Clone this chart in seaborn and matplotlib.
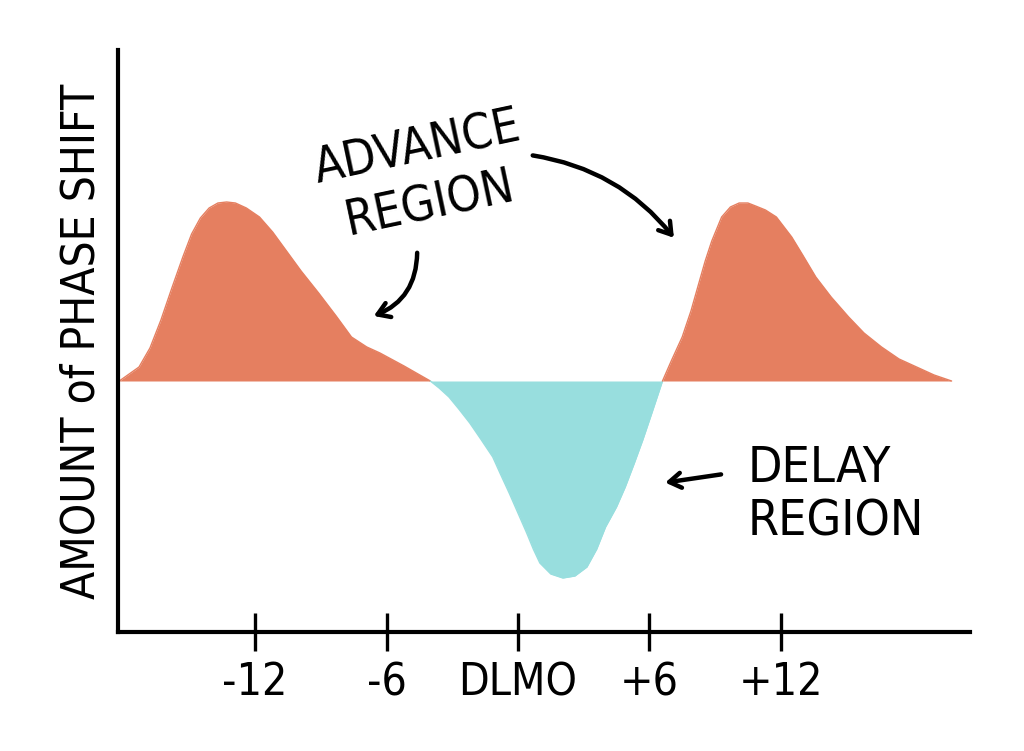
import numpy as np
import pandas as pd
import matplotlib
matplotlib.use("Agg")
import matplotlib.pyplot as plt
import seaborn as sns

# hours relative to DLMO, phase shift in arbitrary units
adv_left_h = [-18.2, -17.3, -16.8, -16.3, -15.8, -15.3, -14.9, -14.5, -14.1, -13.7, -13.3, -12.9, -12.4,
              -11.8, -11.2, -10.6, -9.9, -9.1, -8.3, -7.6, -6.9, -6.3, -5.2, -4.0]
adv_left_y = [0.0, 0.14, 0.33, 0.61, 0.93, 1.24, 1.47, 1.63, 1.73, 1.78, 1.79, 1.78, 1.73,
              1.64, 1.49, 1.31, 1.10, 0.88, 0.65, 0.44, 0.34, 0.28, 0.15, 0.0]

delay_h = [-4.0, -3.6, -3.15, -2.7, -2.2, -1.7, -1.15, -0.8, -0.4, 0.0, 0.4, 0.7, 1.0, 1.5,
           2.05, 2.6, 3.15, 3.6, 4.0, 4.5, 4.9, 5.3, 5.7, 6.1, 6.6]
delay_y = [0.0, -0.07, -0.16, -0.28, -0.42, -0.58, -0.76, -0.93, -1.12, -1.32, -1.52, -1.68,
           -1.82, -1.93, -1.97, -1.95, -1.86, -1.68, -1.46, -1.26, -1.06, -0.83, -0.59, -0.33, 0.0]

adv_right_h = [6.6, 7.0, 7.5, 7.9, 8.25, 8.55, 8.85, 9.3, 9.7, 10.1, 10.5, 10.85, 11.3, 11.8,
               12.5, 13.0, 13.6, 14.3, 15.1, 15.8, 16.6, 17.4, 18.2, 19.0, 19.8]
adv_right_y = [0.0, 0.2, 0.44, 0.70, 0.97, 1.20, 1.40, 1.64, 1.74, 1.78, 1.78, 1.75, 1.71, 1.64,
               1.44, 1.26, 1.04, 0.84, 0.64, 0.48, 0.34, 0.22, 0.14, 0.06, 0.0]

tick_hours = [-12, -6, 0, 6, 12]
tick_labels = ["-12", "-6", "DLMO", "+6", "+12"]

orange = "#E57F60"
teal = "#98DEDE"

sns.set_theme(style="white")
plt.rcParams["font.family"] = ["DejaVu Sans", "Liberation Sans"]
plt.rcParams["font.stretch"] = "condensed"

fig = plt.figure(figsize=(10.24, 7.51), dpi=100)
ax = fig.add_axes([118 / 1024, 1 - 632 / 751, 852 / 1024, 582 / 751])

regions = [
    (adv_left_h, adv_left_y, orange),
    (delay_h, delay_y, teal),
    (adv_right_h, adv_right_y, orange),
]
for hrs, vals, col in regions:
    d = pd.DataFrame({"hour": hrs, "shift": vals})
    ax.fill_between(d["hour"], 0, d["shift"], color=col, linewidth=0)
    sns.lineplot(data=d, x="hour", y="shift", color=col, lw=1, ax=ax, sort=False)

ax.set_xlim(-18.26, 20.64)
ax.set_ylim(-2.51, 3.31)

for s in ["top", "right"]:
    ax.spines[s].set_visible(False)
for s in ["left", "bottom"]:
    ax.spines[s].set_color("black")
    ax.spines[s].set_linewidth(3)

ax.set_xticks(tick_hours)
ax.set_xticklabels(tick_labels, fontsize=32)
ax.set_yticks([])
ax.tick_params(axis="x", direction="inout", length=28, width=2.4, color="black", pad=7,
               bottom=True, labelcolor="black")
ax.set_xlabel("")
ax.set_ylabel("AMOUNT of PHASE SHIFT", fontsize=33, color="black", labelpad=10)

ax.text(-4.3, 2.05, "ADVANCE\nREGION", fontsize=35, rotation=12, ha="center", va="center",
        linespacing=1.25, color="black")
ax.text(10.5, -1.14, "DELAY\nREGION", fontsize=36, ha="left", va="center",
        linespacing=1.15, color="black")

arrow_kw = dict(arrowstyle="->,head_length=0.7,head_width=0.45", lw=3.2, color="black")
ax.annotate("", xy=(-6.7, 0.64), xytext=(-4.6, 1.31),
            arrowprops=dict(connectionstyle="arc3,rad=-0.35", **arrow_kw))
ax.annotate("", xy=(7.2, 1.41), xytext=(0.55, 2.26),
            arrowprops=dict(connectionstyle="arc3,rad=-0.2", **arrow_kw))
ax.annotate("", xy=(6.6, -1.02), xytext=(9.4, -0.93),
            arrowprops=dict(connectionstyle="arc3,rad=0", **arrow_kw))

fig.savefig("out.png", dpi=100, facecolor="white")
